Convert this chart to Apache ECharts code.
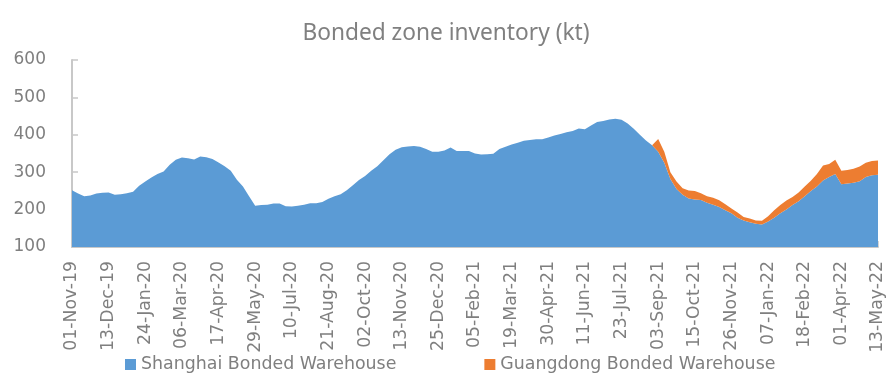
<!DOCTYPE html>
<html>
<head>
<meta charset="utf-8">
<script src="https://cdn.jsdelivr.net/npm/echarts@6/dist/echarts.min.js"></script>
<style>html,body{margin:0;padding:0;background:#fff}#c{width:892px;height:384px}</style>
</head>
<body>
<div id="c"></div>
<script>
// Weekly dates from 01-Nov-19 to 13-May-22
const startDate = new Date(Date.UTC(2019, 10, 1));
const MONTHS = ['Jan','Feb','Mar','Apr','May','Jun','Jul','Aug','Sep','Oct','Nov','Dec'];
const categories = [];
for (let i = 0; i < 133; i++) {
  const d = new Date(startDate.getTime() + i * 7 * 86400000);
  categories.push(String(d.getUTCDate()).padStart(2,'0') + '-' + MONTHS[d.getUTCMonth()] + '-' + String(d.getUTCFullYear()).slice(2));
}

const shanghai = [
 252,243,236,238,243,245,246,240,241,244,
 248,264,275,286,295,302,320,333,339,337,
 334,342,340,335,326,316,304,280,262,236,
 210,212,213,216,216,209,208,210,213,217,
 217,220,229,236,241,252,265,279,290,304,
 316,332,348,360,367,369,370,368,362,355,
 355,358,366,357,357,357,350,347,348,349,
 362,368,374,379,384,386,388,388,393,398,
 402,407,410,417,415,425,434,437,441,443,
 440,430,416,400,385,372,355,325,282,255,
 240,230,227,226,218,213,207,198,190,178,
 171,166,162,160,168,178,190,200,212,222,
 236,250,262,278,287,295,268,270,272,276,
 287,292,293
];

const guangdong = [];
for (let i = 0; i < 95; i++) guangdong.push(null);
const guangdongTail = [
 0,34,30,18,20,17,21,23,18,18,
 19,18,16,13,14,9,10,9,10,14,
 20,22,24,22,24,26,27,33,40,35,
 38,36,36,37,39,38,38,38
];
guangdongTail.forEach(v => guangdong.push(v));

const yTicks = { min: 100, max: 600, interval: 100 };
const seriesNames = ['Shanghai Bonded Warehouse', 'Guangdong Bonded Warehouse'];
const titleText = 'Bonded zone inventory (kt)';

const chart = echarts.init(document.getElementById('c'), null, {renderer: 'canvas'});
const axisGrey = '#c8c8c8';
const textGrey = '#7f7f7f';
const labelFont = "'DejaVu Sans', Verdana, sans-serif";
chart.setOption({
  animation: false,
  backgroundColor: '#fff',
  title: {
    text: titleText,
    left: 'center',
    top: 17,
    textStyle: { fontFamily: 'Noto Sans', fontSize: 22.7, fontWeight: 'normal', color: '#808080' }
  },
  legend: {
    data: seriesNames,
    left: 120,
    top: 351,
    itemWidth: 11,
    itemHeight: 11,
    itemGap: 88,
    icon: 'rect',
    textStyle: { fontFamily: labelFont, fontSize: 17.4, color: textGrey }
  },
  grid: { left: 72, right: 14, top: 60, bottom: 137, containLabel: false },
  xAxis: {
    type: 'category',
    data: categories,
    boundaryGap: false,
    axisLine: { lineStyle: { color: axisGrey, width: 2 } },
    axisTick: { inside: true, length: 6, interval: 5, lineStyle: { color: axisGrey, width: 1.5 } },
    axisLabel: { interval: 5, rotate: 90, margin: 14, fontFamily: labelFont, fontSize: 17.3, color: textGrey },
    splitLine: { show: false }
  },
  yAxis: {
    type: 'value',
    min: yTicks.min, max: yTicks.max, interval: yTicks.interval,
    axisLine: { show: true, lineStyle: { color: axisGrey, width: 2 } },
    axisTick: { show: true, inside: true, length: 6, lineStyle: { color: axisGrey, width: 1.5 } },
    axisLabel: { margin: 26, fontFamily: labelFont, fontSize: 17, color: textGrey },
    splitLine: { show: false }
  },
  series: [
    {
      name: seriesNames[0], type: 'line', stack: 'total', data: shanghai,
      symbol: 'none', lineStyle: { width: 0 }, itemStyle: { color: '#5b9bd5' },
      areaStyle: { color: '#5b9bd5', opacity: 1 }
    },
    {
      name: seriesNames[1], type: 'line', stack: 'total', data: guangdong,
      symbol: 'none', lineStyle: { width: 0 }, itemStyle: { color: '#ed7d31' },
      areaStyle: { color: '#ed7d31', opacity: 1 }
    }
  ]
});
</script>
</body>
</html>
